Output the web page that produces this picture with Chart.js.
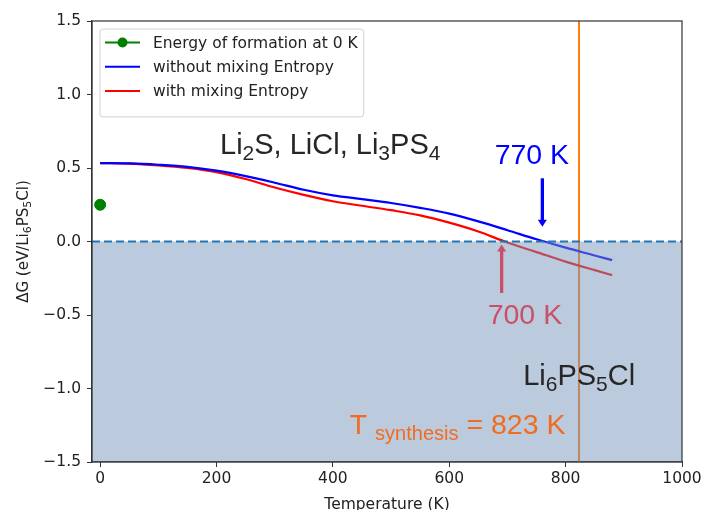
<!DOCTYPE html>
<html>
<head>
<meta charset="utf-8">
<script src="https://cdn.jsdelivr.net/npm/chart.js@4/dist/chart.umd.min.js"></script>
<style>
  html, body { margin: 0; padding: 0; background: #fff; }
  #wrap { width: 702px; height: 510px; }
</style>
</head>
<body>
<div id="wrap"><canvas id="chart"></canvas></div>
<script>
// temperatures (K) and free energy of reaction (eV / Li6PS5Cl)
var temps = [0, 50, 100, 150, 200, 250, 300, 350, 400, 450, 500, 550, 600, 650, 700, 750, 800, 850, 880];
var noMixing = [0.533, 0.531, 0.522, 0.508, 0.482, 0.445, 0.400, 0.352, 0.314, 0.288, 0.262, 0.229, 0.190, 0.137, 0.077, 0.015, -0.042, -0.095, -0.127];
var withMixing = [0.533, 0.530, 0.518, 0.500, 0.472, 0.425, 0.367, 0.317, 0.274, 0.243, 0.213, 0.178, 0.128, 0.068, -0.007, -0.072, -0.137, -0.195, -0.229];
var formationT = [0];
var formationE = [0.25];
var synthesisT = 823;

var xTicks = [0, 200, 400, 600, 800, 1000];
var yTicks = [-1.5, -1.0, -0.5, 0.0, 0.5, 1.0, 1.5];
var xMin = -14, xMax = 1000, yMin = -1.5, yMax = 1.5;

// text labels placed in data coordinates
var notes = [
  { parts: [['Li'], ['2', 1], ['S, LiCl, Li'], ['3', 1], ['PS'], ['4', 1]], t: 206, v: 0.594, size: 29, color: '#262626' },
  { parts: [['770 K']], t: 678, v: 0.526, size: 28.5, color: '#0000ff' },
  { parts: [['700 K']], t: 666, v: -0.558, size: 28.5, color: 'rgb(201,80,104)' },
  { parts: [['Li'], ['6', 1], ['PS'], ['5', 1], ['Cl']], t: 727, v: -0.978, size: 29, color: '#262626' },
  { parts: [['T '], ['synthesis', 1], [' = 823 K']], t: 429, v: -1.307, size: 28.5, color: '#f26c1f' }
];
var arrows = [
  { t: 760, from: 0.43, to: 0.10, color: '#0000ff' },
  { t: 690, from: -0.35, to: -0.02, color: 'rgb(201,80,104)' }
];

function toPoints(xs, ys) {
  return xs.map(function (x, i) { return { x: x, y: ys[i] }; });
}

function drawRich(ctx, parts, x, y, size, family, color, align) {
  var subSize = Math.round(size * 0.71);
  var widths = parts.map(function (p) {
    ctx.font = (p[1] ? subSize : size) + 'px "' + family + '"';
    return ctx.measureText(p[0]).width;
  });
  var total = widths.reduce(function (a, b) { return a + b; }, 0);
  var cx = align === 'center' ? x - total / 2 : x;
  ctx.fillStyle = color;
  ctx.textAlign = 'left';
  ctx.textBaseline = 'alphabetic';
  parts.forEach(function (p, i) {
    ctx.font = (p[1] ? subSize : size) + 'px "' + family + '"';
    ctx.fillText(p[0], cx, p[1] ? y + size * 0.21 : y);
    cx += widths[i];
  });
}

var extras = {
  id: 'extras',
  afterDatasetsDraw: function (chart) {
    var ctx = chart.ctx, xs = chart.scales.x, ys = chart.scales.y, a = chart.chartArea;
    ctx.save();
    // frame
    ctx.strokeStyle = '#333';
    ctx.lineWidth = 1.2;
    ctx.strokeRect(a.left, a.top, a.right - a.left, a.bottom - a.top);

    // arrows
    arrows.forEach(function (ar) {
      var x = xs.getPixelForValue(ar.t);
      var y0 = ys.getPixelForValue(ar.from), y1 = ys.getPixelForValue(ar.to);
      var dir = y1 > y0 ? 1 : -1;
      ctx.strokeStyle = ar.color;
      ctx.fillStyle = ar.color;
      ctx.lineWidth = 3.3;
      ctx.beginPath();
      ctx.moveTo(x, y0);
      ctx.lineTo(x, y1 - dir * 5);
      ctx.stroke();
      ctx.beginPath();
      ctx.moveTo(x - 4.5, y1 - dir * 7);
      ctx.lineTo(x + 4.5, y1 - dir * 7);
      ctx.lineTo(x, y1);
      ctx.closePath();
      ctx.fill();
    });

    // annotations
    notes.forEach(function (n) {
      drawRich(ctx, n.parts, xs.getPixelForValue(n.t), ys.getPixelForValue(n.v), n.size, 'Liberation Sans', n.color, 'left');
    });

    // axis titles
    drawRich(ctx, [['Temperature (K)']], (a.left + a.right) / 2, 509, 15.5, 'DejaVu Sans', '#222', 'center');
    ctx.save();
    ctx.translate(28, (a.top + a.bottom) / 2);
    ctx.rotate(-Math.PI / 2);
    drawRich(ctx, [['\u0394G (eV/Li'], ['6', 1], ['PS'], ['5', 1], ['Cl)']], 0, 0, 15, 'DejaVu Sans', '#222', 'center');
    ctx.restore();

    // legend
    var items = chart.data.datasets.filter(function (d) { return d.legendLabel; });
    var fs = 15.5;
    ctx.font = fs + 'px "DejaVu Sans"';
    var maxW = 0;
    items.forEach(function (d) { maxW = Math.max(maxW, ctx.measureText(d.legendLabel).width); });
    var bx = a.left + 8, by = a.top + 8, rowH = 24.3;
    var bw = 53 + maxW + 6, bh = 14 + rowH * items.length + 1;
    ctx.fillStyle = 'rgba(255,255,255,0.85)';
    ctx.strokeStyle = '#d0d0d0';
    ctx.lineWidth = 1;
    ctx.beginPath();
    ctx.roundRect(bx, by, bw, bh, 3);
    ctx.fill();
    ctx.stroke();
    items.forEach(function (d, i) {
      var cy = by + 13.5 + i * rowH;
      ctx.strokeStyle = d.borderColor;
      ctx.lineWidth = 2;
      ctx.beginPath();
      ctx.moveTo(bx + 5, cy);
      ctx.lineTo(bx + 40, cy);
      ctx.stroke();
      if (d.legendMarker) {
        ctx.fillStyle = d.borderColor;
        ctx.beginPath();
        ctx.arc(bx + 22.5, cy, 5, 0, Math.PI * 2);
        ctx.fill();
      }
      ctx.fillStyle = '#222';
      ctx.font = fs + 'px "DejaVu Sans"';
      ctx.textAlign = 'left';
      ctx.textBaseline = 'middle';
      ctx.fillText(d.legendLabel, bx + 53, cy + 1);
    });
    ctx.restore();
  }
};

var tickFont = { family: 'DejaVu Sans', size: 15.5 };

new Chart(document.getElementById('chart'), {
  type: 'scatter',
  data: {
    datasets: [
      {
        // zero line, dashed
        data: [{ x: xMin, y: 0 }, { x: xMax, y: 0 }],
        showLine: true, borderColor: '#1f77b4', borderWidth: 1.8, borderDash: [8, 4],
        pointRadius: 0, order: -1
      },
      {
        // shaded stability region, drawn over the curves
        data: [{ x: xMin, y: 0 }, { x: xMax, y: 0 }],
        showLine: true, borderWidth: 0, pointRadius: 0,
        fill: { value: yMin }, backgroundColor: 'rgba(120,150,185,0.5)', order: 0
      },
      {
        legendLabel: 'Energy of formation at 0 K', legendMarker: true,
        data: toPoints(formationT, formationE),
        borderColor: 'green', backgroundColor: 'green', pointRadius: 5.5, order: 1
      },
      {
        legendLabel: 'without mixing Entropy',
        data: toPoints(temps, noMixing),
        showLine: true, borderColor: '#0000ff', borderWidth: 2.2, pointRadius: 0,
        cubicInterpolationMode: 'monotone', order: 2
      },
      {
        legendLabel: 'with mixing Entropy',
        data: toPoints(temps, withMixing),
        showLine: true, borderColor: '#ff0000', borderWidth: 2.2, pointRadius: 0,
        cubicInterpolationMode: 'monotone', order: 3
      },
      {
        // synthesis temperature
        data: [{ x: synthesisT, y: yMin }, { x: synthesisT, y: yMax }],
        showLine: true, borderColor: '#ff7f0e', borderWidth: 2, pointRadius: 0, order: 4
      }
    ]
  },
  options: {
    responsive: true,
    maintainAspectRatio: false,
    animation: false,
    layout: { padding: { top: 21, right: 20, bottom: 0, left: 0 } },
    plugins: { legend: { display: false }, tooltip: { enabled: false } },
    scales: {
      x: {
        type: 'linear', min: xMin, max: xMax,
        afterBuildTicks: function (s) { s.ticks = xTicks.map(function (v) { return { value: v }; }); },
        afterFit: function (s) { s.height = 48; s.paddingLeft = 0; s.paddingRight = 0; },
        ticks: {
          font: tickFont, color: '#222', padding: 3, maxRotation: 0,
          callback: function (v) { return String(v); }
        },
        grid: { drawOnChartArea: false, drawTicks: true, tickLength: 5, color: '#333' },
        border: { display: true, color: '#333', width: 1.2 }
      },
      y: {
        type: 'linear', min: yMin, max: yMax,
        afterBuildTicks: function (s) { s.ticks = yTicks.map(function (v) { return { value: v }; }); },
        afterFit: function (s) { s.width = 92; s.paddingTop = 0; s.paddingBottom = 0; },
        ticks: {
          font: tickFont, color: '#222', padding: 6,
          callback: function (v) { return v.toFixed(1).replace('-', '\u2212'); }
        },
        grid: { drawOnChartArea: false, drawTicks: true, tickLength: 5, color: '#333' },
        border: { display: true, color: '#333', width: 1.2 }
      }
    }
  },
  plugins: [extras]
});
</script>
</body>
</html>
